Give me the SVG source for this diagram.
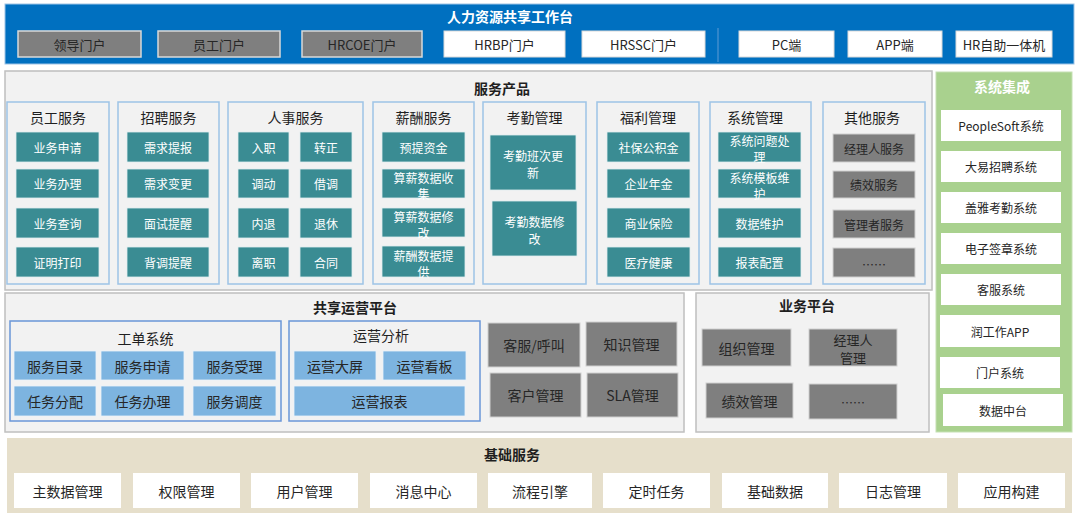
<svg xmlns="http://www.w3.org/2000/svg" width="1080" height="514" viewBox="0 0 1080 514">
<style>
text{font-family:"Microsoft YaHei","Noto Sans CJK SC","Noto Sans",sans-serif;text-anchor:middle;dominant-baseline:central}
.pn{fill:#F2F2F2;stroke:#BFBFBF;stroke-width:1.5}
.sb{fill:none;stroke:#9DC3E6;stroke-width:1.5}
.ob{fill:none;stroke:#6A96D8;stroke-width:1.5}
.tl{fill:#3A8C93;stroke:#E0EEF0;stroke-width:0.8}
.lb{fill:#7DB4E0;stroke:#EAF3FB;stroke-width:0.8}
.gy{fill:#7F7F7F;stroke:#D0D0D0;stroke-width:1}
.gp{fill:#7F7F7F;stroke:#D9D9D9;stroke-width:1.5}
.wp{fill:#FFFFFF;stroke:#D9D9D9;stroke-width:1}
.wb{fill:#FFFFFF}
.h{font-size:14px;font-weight:bold;fill:#1F1F1F}
.hw{font-size:14px;font-weight:bold;fill:#FFFFFF}
.sh{font-size:14px;fill:#1F1F1F}
.t12w{font-size:12px;fill:#FFFFFF}
.t12d{font-size:12px;fill:#262626}
.t13d{font-size:13px;fill:#262626}
.t14d{font-size:14px;fill:#262626}
</style>

<!-- Top bar -->
<g id="workbench">
<rect x="5" y="4" width="1069" height="60" fill="#0070C0" stroke="#9DC3E6" stroke-width="1"/>
<text x="510" y="16" class="hw">人力资源共享工作台</text>
<line x1="718" y1="28" x2="718" y2="62" stroke="#4F94D0" stroke-width="1.2"/>
</g>
<g id="portal-leader"><rect x="18" y="31" width="123" height="26" class="gp"/><text x="79.5" y="44" class="t13d">领导门户</text></g>
<g id="portal-employee"><rect x="158" y="31" width="122" height="26" class="gp"/><text x="219" y="44" class="t13d">员工门户</text></g>
<g id="portal-hrcoe"><rect x="302" y="31" width="120" height="26" class="gp"/><text x="362" y="44" class="t13d">HRCOE门户</text></g>
<g id="portal-hrbp"><rect x="444" y="31" width="121" height="26" class="wp"/><text x="504.5" y="44" class="t13d">HRBP门户</text></g>
<g id="portal-hrssc"><rect x="582" y="31" width="123" height="26" class="wp"/><text x="643.5" y="44" class="t13d">HRSSC门户</text></g>
<g id="portal-pc"><rect x="739" y="31" width="95" height="26" class="wp"/><text x="786.5" y="44" class="t13d">PC端</text></g>
<g id="portal-app"><rect x="848" y="31" width="94" height="26" class="wp"/><text x="895" y="44" class="t13d">APP端</text></g>
<g id="portal-kiosk"><rect x="956" y="31" width="96" height="26" class="wp"/><text x="1004" y="44" class="t13d">HR自助一体机</text></g>

<!-- Service products -->
<g id="service-products">
<rect x="5" y="71" width="927" height="219" class="pn"/>
<text x="502" y="88" class="h">服务产品</text>
</g>

<g id="svc-employee">
<rect x="7" y="102" width="102" height="182" class="sb"/>
<text x="58" y="117" class="sh">员工服务</text>
<rect x="16" y="132" width="83" height="30" class="tl"/><text x="57.5" y="147" class="t12w">业务申请</text>
<rect x="16" y="169" width="83" height="29" class="tl"/><text x="57.5" y="183.5" class="t12w">业务办理</text>
<rect x="16" y="208" width="83" height="30" class="tl"/><text x="57.5" y="223" class="t12w">业务查询</text>
<rect x="16" y="247" width="83" height="30" class="tl"/><text x="57.5" y="262" class="t12w">证明打印</text>
</g>

<g id="svc-recruit">
<rect x="118" y="102" width="101" height="182" class="sb"/>
<text x="168.5" y="117" class="sh">招聘服务</text>
<rect x="127" y="132" width="82" height="30" class="tl"/><text x="168" y="147" class="t12w">需求提报</text>
<rect x="127" y="169" width="82" height="29" class="tl"/><text x="168" y="183.5" class="t12w">需求变更</text>
<rect x="127" y="208" width="82" height="30" class="tl"/><text x="168" y="223" class="t12w">面试提醒</text>
<rect x="127" y="247" width="82" height="30" class="tl"/><text x="168" y="262" class="t12w">背调提醒</text>
</g>

<g id="svc-personnel">
<rect x="228" y="102" width="135" height="182" class="sb"/>
<text x="295.5" y="117" class="sh">人事服务</text>
<rect x="238" y="132" width="51" height="30" class="tl"/><text x="263.5" y="147" class="t12w">入职</text>
<rect x="300" y="132" width="52" height="30" class="tl"/><text x="326" y="147" class="t12w">转正</text>
<rect x="238" y="169" width="51" height="29" class="tl"/><text x="263.5" y="183.5" class="t12w">调动</text>
<rect x="300" y="169" width="52" height="29" class="tl"/><text x="326" y="183.5" class="t12w">借调</text>
<rect x="238" y="208" width="51" height="30" class="tl"/><text x="263.5" y="223" class="t12w">内退</text>
<rect x="300" y="208" width="52" height="30" class="tl"/><text x="326" y="223" class="t12w">退休</text>
<rect x="238" y="247" width="51" height="30" class="tl"/><text x="263.5" y="262" class="t12w">离职</text>
<rect x="300" y="247" width="52" height="30" class="tl"/><text x="326" y="262" class="t12w">合同</text>
</g>

<g id="svc-salary">
<rect x="373" y="102" width="101" height="182" class="sb"/>
<text x="423.5" y="117" class="sh">薪酬服务</text>
<rect x="382" y="132" width="83" height="30" class="tl"/><text x="423.5" y="147" class="t12w">预提资金</text>
<rect x="382" y="169" width="83" height="29" class="tl"/><text x="423.5" y="177" class="t12w">算薪数据收</text><text x="423.5" y="193" class="t12w">集</text>
<rect x="382" y="208" width="83" height="29" class="tl"/><text x="423.5" y="216" class="t12w">算薪数据修</text><text x="423.5" y="232" class="t12w">改</text>
<rect x="382" y="246" width="83" height="31" class="tl"/><text x="423.5" y="255" class="t12w">薪酬数据提</text><text x="423.5" y="271" class="t12w">供</text>
</g>

<g id="svc-attendance">
<rect x="483" y="102" width="103" height="182" class="sb"/>
<text x="534.5" y="117" class="sh">考勤管理</text>
<rect x="490" y="135" width="86" height="55" class="tl"/><text x="533" y="155" class="t12w">考勤班次更</text><text x="533" y="172" class="t12w">新</text>
<rect x="492" y="201" width="85" height="55" class="tl"/><text x="534.5" y="221" class="t12w">考勤数据修</text><text x="534.5" y="238" class="t12w">改</text>
</g>

<g id="svc-welfare">
<rect x="597" y="102" width="102" height="182" class="sb"/>
<text x="648" y="117" class="sh">福利管理</text>
<rect x="607" y="132" width="83" height="30" class="tl"/><text x="648.5" y="147" class="t12w">社保公积金</text>
<rect x="607" y="169" width="83" height="29" class="tl"/><text x="648.5" y="183.5" class="t12w">企业年金</text>
<rect x="607" y="208" width="83" height="30" class="tl"/><text x="648.5" y="223" class="t12w">商业保险</text>
<rect x="607" y="247" width="83" height="30" class="tl"/><text x="648.5" y="262" class="t12w">医疗健康</text>
</g>

<g id="svc-system">
<rect x="710" y="102" width="101" height="182" class="sb"/>
<text x="755" y="117" class="sh">系统管理</text>
<rect x="718" y="132" width="83" height="30" class="tl"/><text x="759.5" y="140" class="t12w">系统问题处</text><text x="759.5" y="156" class="t12w">理</text>
<rect x="718" y="169" width="83" height="29" class="tl"/><text x="759.5" y="177" class="t12w">系统模板维</text><text x="759.5" y="193" class="t12w">护</text>
<rect x="718" y="208" width="83" height="30" class="tl"/><text x="759.5" y="223" class="t12w">数据维护</text>
<rect x="718" y="247" width="83" height="30" class="tl"/><text x="759.5" y="262" class="t12w">报表配置</text>
</g>

<g id="svc-other">
<rect x="823" y="102" width="102" height="182" class="sb"/>
<text x="872" y="117" class="sh">其他服务</text>
<rect x="833" y="134" width="82" height="28" class="gy"/><text x="874" y="148" class="t12d">经理人服务</text>
<rect x="833" y="171" width="82" height="27" class="gy"/><text x="874" y="184.5" class="t12d">绩效服务</text>
<rect x="833" y="210" width="82" height="28" class="gy"/><text x="874" y="224" class="t12d">管理者服务</text>
<rect x="833" y="248" width="82" height="29" class="gy"/><text x="874" y="264" class="t12d">……</text>
</g>

<!-- System integration -->
<g id="system-integration">
<rect x="936" y="72" width="136" height="360" fill="#A9D18E" stroke="#C5E0B4" stroke-width="1"/>
<text x="1002" y="86" class="hw">系统集成</text>
</g>
<g id="int-peoplesoft"><rect x="941" y="110" width="120" height="31" class="wb"/><text x="1001" y="125.5" class="t12d">PeopleSoft系统</text></g>
<g id="int-dayi"><rect x="941" y="151" width="120" height="31" class="wb"/><text x="1001" y="166.5" class="t12d">大易招聘系统</text></g>
<g id="int-gaiya"><rect x="941" y="192" width="120" height="31" class="wb"/><text x="1001" y="207.5" class="t12d">盖雅考勤系统</text></g>
<g id="int-esign"><rect x="941" y="233" width="120" height="31" class="wb"/><text x="1001" y="248.5" class="t12d">电子签章系统</text></g>
<g id="int-cs"><rect x="941" y="274" width="120" height="31" class="wb"/><text x="1001" y="289.5" class="t12d">客服系统</text></g>
<g id="int-app"><rect x="940" y="315" width="120" height="32" class="wb"/><text x="1000" y="331" class="t12d">润工作APP</text></g>
<g id="int-portal"><rect x="940" y="357" width="120" height="31" class="wb"/><text x="1000" y="372.5" class="t12d">门户系统</text></g>
<g id="int-data"><rect x="943" y="394" width="120" height="32" class="wb"/><text x="1003" y="410" class="t12d">数据中台</text></g>

<!-- Shared operations platform -->
<g id="shared-ops">
<rect x="5" y="293" width="679" height="139" class="pn"/>
<text x="355" y="307" class="h">共享运营平台</text>
</g>
<g id="ticket-system">
<rect x="10" y="321" width="271" height="100" class="ob"/>
<text x="145.5" y="338" class="sh">工单系统</text>
<rect x="14" y="351" width="82" height="29" class="lb"/><text x="55" y="365.5" class="t14d">服务目录</text>
<rect x="101" y="351" width="83" height="29" class="lb"/><text x="142.5" y="365.5" class="t14d">服务申请</text>
<rect x="193" y="351" width="83" height="29" class="lb"/><text x="234.5" y="365.5" class="t14d">服务受理</text>
<rect x="14" y="386" width="82" height="30" class="lb"/><text x="55" y="401" class="t14d">任务分配</text>
<rect x="101" y="386" width="83" height="30" class="lb"/><text x="142.5" y="401" class="t14d">任务办理</text>
<rect x="193" y="386" width="83" height="30" class="lb"/><text x="234.5" y="401" class="t14d">服务调度</text>
</g>
<g id="ops-analysis">
<rect x="289" y="321" width="191" height="100" class="ob"/>
<text x="381" y="335" class="sh">运营分析</text>
<rect x="294" y="351" width="82" height="29" class="lb"/><text x="335" y="365.5" class="t14d">运营大屏</text>
<rect x="383" y="351" width="83" height="29" class="lb"/><text x="424.5" y="365.5" class="t14d">运营看板</text>
<rect x="294" y="386" width="171" height="30" class="lb"/><text x="379.5" y="401" class="t14d">运营报表</text>
</g>
<g id="ops-call"><rect x="488" y="323" width="92" height="44" class="gy"/><text x="534" y="345" class="t14d">客服/呼叫</text></g>
<g id="ops-knowledge"><rect x="586" y="322" width="91" height="44" class="gy"/><text x="631.5" y="344" class="t14d">知识管理</text></g>
<g id="ops-customer"><rect x="490" y="373" width="91" height="44" class="gy"/><text x="535.5" y="395" class="t14d">客户管理</text></g>
<g id="ops-sla"><rect x="587" y="373" width="91" height="44" class="gy"/><text x="632.5" y="395" class="t14d">SLA管理</text></g>

<!-- Business platform -->
<g id="business-platform">
<rect x="696" y="293" width="233" height="139" class="pn"/>
<text x="807" y="305" class="h">业务平台</text>
</g>
<g id="biz-org"><rect x="702" y="329" width="89" height="37" class="gy"/><text x="746.5" y="347.5" class="t14d">组织管理</text></g>
<g id="biz-manager"><rect x="809" y="329" width="88" height="37" class="gy"/><text x="853" y="339" class="t13d">经理人</text><text x="853" y="357" class="t13d">管理</text></g>
<g id="biz-perf"><rect x="706" y="383" width="87" height="35" class="gy"/><text x="749.5" y="400.5" class="t14d">绩效管理</text></g>
<g id="biz-more"><rect x="809" y="384" width="88" height="35" class="gy"/><text x="853" y="402" class="t12d">……</text></g>

<!-- Base services -->
<g id="base-services">
<rect x="7" y="438" width="1065" height="75" fill="#E6DFCB"/>
<text x="512" y="454" class="h">基础服务</text>
</g>
<g id="base-master"><rect x="14" y="473" width="107" height="35" class="wb"/><text x="67.5" y="490.5" class="t14d">主数据管理</text></g>
<g id="base-auth"><rect x="133" y="473" width="107" height="35" class="wb"/><text x="186.5" y="490.5" class="t14d">权限管理</text></g>
<g id="base-user"><rect x="251" y="473" width="107" height="35" class="wb"/><text x="304.5" y="490.5" class="t14d">用户管理</text></g>
<g id="base-msg"><rect x="370" y="473" width="107" height="35" class="wb"/><text x="423.5" y="490.5" class="t14d">消息中心</text></g>
<g id="base-flow"><rect x="488" y="473" width="104" height="35" class="wb"/><text x="540" y="490.5" class="t14d">流程引擎</text></g>
<g id="base-timer"><rect x="603" y="473" width="107" height="35" class="wb"/><text x="656.5" y="490.5" class="t14d">定时任务</text></g>
<g id="base-data"><rect x="722" y="473" width="106" height="35" class="wb"/><text x="775" y="490.5" class="t14d">基础数据</text></g>
<g id="base-log"><rect x="839" y="473" width="108" height="35" class="wb"/><text x="893" y="490.5" class="t14d">日志管理</text></g>
<g id="base-app"><rect x="958" y="473" width="107" height="35" class="wb"/><text x="1011.5" y="490.5" class="t14d">应用构建</text></g>

<g id="connectors"></g>
</svg>
